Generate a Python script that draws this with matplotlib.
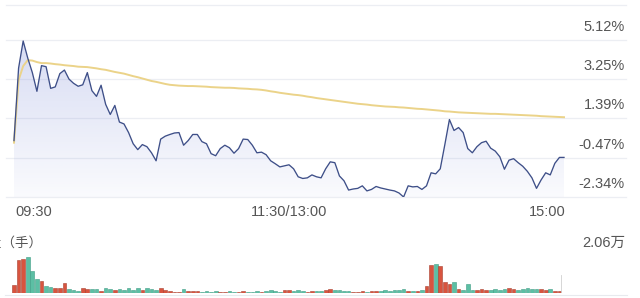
# -*- coding: utf-8 -*-
"""
intraday chart: price change %, average line and volume
"""

import numpy as np
import matplotlib.pyplot as plt
from matplotlib.patches import Polygon
from matplotlib.lines import Line2D

# one point every 2 minutes, 09:30 -> 15:00 (241 trading minutes)
minutes = np.arange(121) * 2

price = [0.34, 3.78, 5.07, 4.26, 3.57, 2.68, 3.90, 3.85, 2.82, 2.89,
         3.52, 3.69, 3.26, 3.06, 2.92, 2.99, 3.57, 2.71, 2.44, 2.97,
         2.06, 1.58, 2.01, 1.22, 1.13, 0.72, 0.19, -0.09, 0.15, 0.05,
         -0.24, -0.62, 0.41, 0.55, 0.63, 0.70, 0.72, 0.12, 0.34, 0.63,
         0.63, 0.29, 0.19, -0.28, -0.38, -0.04, 0.12, 0.00, -0.26, -0.04,
         0.41, 0.39, 0.12, -0.24, -0.21, -0.33, -0.62, -0.76, -0.91, -0.86,
         -0.81, -1.00, -1.38, -1.46, -1.43, -1.29, -1.38, -1.43, -1.00, -0.67,
         -0.71, -1.34, -1.57, -2.01, -1.96, -1.93, -1.81, -2.05, -1.98, -1.84,
         -1.91, -1.96, -2.01, -2.05, -2.15, -2.34, -1.81, -1.86, -1.84, -1.98,
         -1.81, -1.19, -1.24, -1.00, 0.15, 1.34, 0.82, 0.96, 0.72, -0.04,
         -0.24, 0.05, 0.24, 0.31, -0.02, -0.16, -0.43, -1.02, -0.59, -0.52,
         -0.71, -0.88, -1.12, -1.43, -1.93, -1.53, -1.19, -1.29, -0.74, -0.46,
         -0.46]

avg_price = [0.24, 3.21, 3.88, 4.16, 4.14, 4.07, 4.02, 4.02, 4.00, 3.97,
             3.95, 3.92, 3.90, 3.88, 3.85, 3.84, 3.83, 3.80, 3.77, 3.73,
             3.70, 3.65, 3.60, 3.56, 3.52, 3.46, 3.40, 3.35, 3.29, 3.23,
             3.17, 3.13, 3.08, 3.03, 2.99, 2.97, 2.95, 2.94, 2.93, 2.93,
             2.92, 2.91, 2.90, 2.88, 2.87, 2.86, 2.85, 2.85, 2.84, 2.82,
             2.81, 2.80, 2.78, 2.77, 2.75, 2.72, 2.68, 2.65, 2.61, 2.58,
             2.55, 2.52, 2.50, 2.47, 2.43, 2.40, 2.36, 2.33, 2.30, 2.27,
             2.24, 2.21, 2.18, 2.15, 2.12, 2.09, 2.07, 2.05, 2.02, 2.00,
             1.98, 1.96, 1.95, 1.94, 1.92, 1.91, 1.89, 1.87, 1.85, 1.84,
             1.82, 1.80, 1.78, 1.76, 1.73, 1.72, 1.70, 1.68, 1.67, 1.66,
             1.65, 1.64, 1.63, 1.62, 1.61, 1.61, 1.60, 1.59, 1.58, 1.57,
             1.56, 1.55, 1.54, 1.53, 1.52, 1.50, 1.49, 1.48, 1.47, 1.46,
             1.45]

volume = [3840, 15840, 16320, 17280, 10560, 6480, 5760, 3360, 2880, 2400,
          2400, 4800, 1920, 1440, 960, 2400, 1920, 1920, 1920, 960,
          2400, 1920, 1440, 1920, 1440, 2400, 1440, 2400, 1440, 2400,
          1920, 1440, 2400, 1440, 720, 480, 480, 1920, 720, 960,
          720, 480, 720, 480, 720, 480, 480, 720, 480, 480,
          960, 480, 480, 720, 480, 720, 1440, 720, 480, 1200,
          1440, 960, 1440, 720, 480, 960, 720, 960, 1440, 1920,
          1440, 1200, 960, 720, 480, 480, 720, 480, 960, 720,
          960, 1200, 960, 1200, 1440, 1920, 960, 720, 960, 1300,
          3220, 13300, 13780, 12820, 5280, 4320, 5280, 2060, 1580, 4180,
          1300, 1440, 2060, 1580, 1440, 2060, 1440, 1680, 2540, 1680,
          1440, 1920, 2400, 1680, 1920, 1920, 1440, 1680, 720, 720,
          0]

yticks = [5.12, 3.25, 1.39, -0.47, -2.34]
ytick_labels = ['5.12%', '3.25%', '1.39%', '-0.47%', '-2.34%']
xtick_pos = [0, 120, 240]
xtick_labels = ['09:30', '11:30/13:00', '15:00']
vol_max_label = '2.06万'
vol_title = '成交量（手）'

W, H = 640, 298
XMIN, XMAX = -3.49, 267.05
YMIN, YMAX = -2.34, 6.78
GREY = '#555555'


def box(x0, y0, x1, y1):
    # pixel box -> figure fraction
    return [x0 / W, 1 - y1 / H, (x1 - x0) / W, (y1 - y0) / H]


fig = plt.figure(figsize=(W / 100, H / 100), dpi=100)
fig.patch.set_facecolor('white')

# price panel
ax = fig.add_axes(box(6, 5, 626, 197))
ax.axis('off')
for v in yticks + [YMAX]:
    ax.axhline(v, color='#eceef3', lw=0.9, zorder=0, clip_on=False)

verts = [(minutes[0], YMIN)] + list(zip(minutes, price)) + [(minutes[-1], YMIN)]
poly = Polygon(verts, closed=True, facecolor='none', edgecolor='none')
ax.add_patch(poly)
grad = np.linspace(1, 0, 256)
rgba = np.zeros((256, 1, 4))
rgba[..., 0], rgba[..., 1], rgba[..., 2] = 0.60, 0.65, 0.88
rgba[..., 3] = (0.05 + 0.34 * grad)[:, None]
im = ax.imshow(rgba, extent=[minutes[0], minutes[-1], YMIN, max(price)],
               aspect='auto', origin='upper', zorder=1)
im.set_clip_path(poly)

ax.plot(minutes, avg_price, color='#ebd389', lw=1.4, zorder=2)
ax.plot(minutes, price, color='#3e4f88', lw=0.95, zorder=3)
ax.set_xlim(XMIN, XMAX)
ax.set_ylim(YMIN, YMAX)

for v, s in zip(yticks, ytick_labels):
    ax.annotate(s, xy=(266.6, v), xytext=(0, 9.4), textcoords='offset points',
                ha='right', va='center', fontsize=10.5, color=GREY,
                family='Liberation Sans')

for p, s, ha, dx in zip(xtick_pos, xtick_labels, ['left', 'center', 'right'], [1, 0, 1]):
    ax.annotate(s, xy=(p, 0), xycoords=('data', 'axes fraction'),
                xytext=(dx, -10.8), textcoords='offset points',
                ha=ha, va='center', fontsize=10.5, color=GREY,
                family='Liberation Sans', annotation_clip=False)

# volume panel
axv = fig.add_axes(box(6, 250, 626, 293))
axv.axis('off')
colors = ['#d8543f' if i == 0 or price[i] >= price[i - 1] else '#5cbfa4'
          for i in range(len(price))]
edges = ['#a8402f' if c == '#d8543f' else '#3f9c84' for c in colors]
axv.bar(minutes, volume, width=1.6, color=colors, edgecolor=edges, linewidth=0.4)
axv.axvline(238.6, ymax=0.42, color='#d0d0d0', lw=0.6)
axv.set_xlim(XMIN, XMAX)
axv.set_ylim(0, 20600)

# the title is cut at the left edge in the source too
fig.text(-38 / W, 1 - 243 / H, vol_title, fontsize=9.7, color=GREY,
         ha='left', va='center', family=['Noto Sans CJK SC'])
fig.text(625 / W, 1 - 243 / H, vol_max_label, fontsize=10.5, color=GREY,
         ha='right', va='center', family=['Liberation Sans', 'Noto Sans CJK SC'])
fig.add_artist(Line2D([5 / W, 627 / W], [1 - 294.5 / H] * 2,
                      color='#e8eaee', lw=0.8))

fig.savefig('out.png', dpi=100)
